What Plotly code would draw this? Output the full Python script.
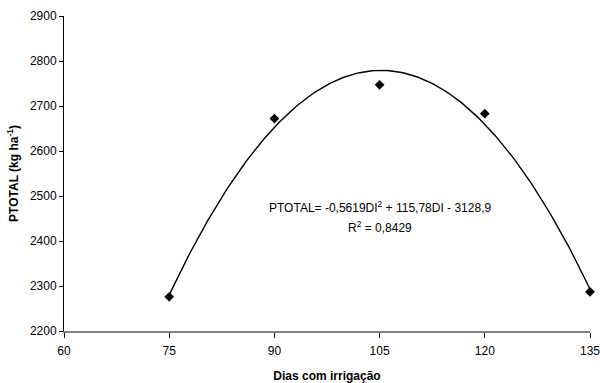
import numpy as np
import plotly.graph_objects as go

dias = [75, 90, 105, 120, 135]
ptotal = [2276, 2672, 2747, 2683, 2287]
x_ticks = [60, 75, 90, 105, 120, 135]
y_ticks = [2200, 2300, 2400, 2500, 2600, 2700, 2800, 2900]

# quadratic trendline fitted to the observed points
coef = np.polyfit(dias, ptotal, 2)
xs = np.linspace(min(dias), max(dias), 200)
ys = np.polyval(coef, xs)

FONT = "Liberation Sans, Arial, sans-serif"

fig = go.Figure()
fig.add_trace(go.Scatter(x=xs, y=ys, mode="lines",
                         line=dict(color="black", width=1.4),
                         hoverinfo="skip", showlegend=False, cliponaxis=False))
fig.add_trace(go.Scatter(x=dias, y=ptotal, mode="markers",
                         marker=dict(symbol="diamond", size=7.5, color="black"),
                         showlegend=False, cliponaxis=False))

fig.add_annotation(x=105, y=2475, xref="x", yref="y",
                   text="PTOTAL= -0,5619DI<sup>2</sup> + 115,78DI - 3128,9",
                   showarrow=False, font=dict(family=FONT, size=12, color="black"))
fig.add_annotation(x=105, y=2431, xref="x", yref="y",
                   text="R<sup>2</sup> = 0,8429",
                   showarrow=False, font=dict(family=FONT, size=12, color="black"))

fig.update_layout(
    width=600, height=383,
    margin=dict(l=64, r=10, t=16, b=52, autoexpand=False),
    plot_bgcolor="white", paper_bgcolor="white",
    font=dict(family=FONT, size=12, color="black"),
    xaxis=dict(range=[60, 135], tickvals=x_ticks, showgrid=False, zeroline=False,
               showline=True, linecolor="#808080", linewidth=2,
               ticks="outside", ticklen=5, tickcolor="black", tickwidth=1,
               tickfont=dict(size=12), automargin=False, ticklabeloverflow="allow",
               ticklabelstandoff=3,
               title=dict(text="<b>Dias com irrigação</b>", font=dict(size=12), standoff=16)),
    yaxis=dict(range=[2200, 2900], tickvals=y_ticks, showgrid=False, zeroline=False,
               showline=True, linecolor="black", linewidth=1,
               ticks="outside", ticklen=4, tickcolor="black", tickwidth=1,
               tickfont=dict(size=12), automargin=False, ticklabeloverflow="allow",
               title=dict(text="<b>PTOTAL (kg ha<sup>-1</sup>)</b>", font=dict(size=12), standoff=8)),
)

fig.write_html("out.html")
